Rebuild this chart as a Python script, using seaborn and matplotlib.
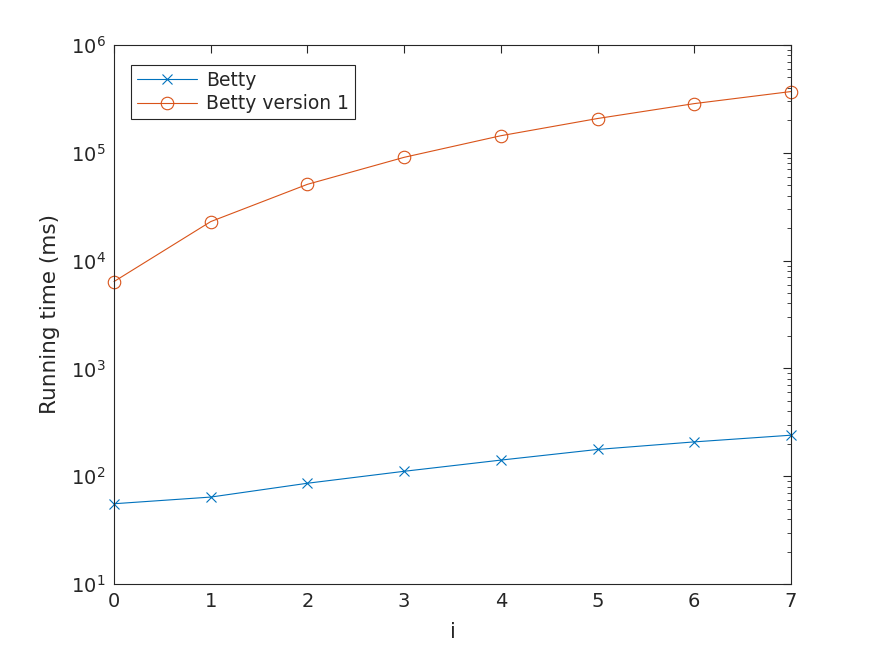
import numpy as np
import matplotlib
matplotlib.use('Agg')
import matplotlib.pyplot as plt
import seaborn as sns
from matplotlib.ticker import LogLocator, FixedLocator

# 数据
i_vals = [0, 1, 2, 3, 4, 5, 6, 7]
betty = [55.5, 64, 86, 111, 141, 177, 208, 240]
betty_v1 = [6390, 23000, 51000, 90800, 144000, 208000, 286000, 370000]
series_names = ['Betty', 'Betty version 1']

sns.set_theme(style='white')
plt.rcParams['font.family'] = ['DejaVu Sans']

fig = plt.figure(figsize=(8.75, 6.56), dpi=100)
ax = fig.add_axes([0.1303, 0.1098, 0.7737, 0.8216])

# 两条折线分别画（x 和空心圆标记不能混用）
sns.lineplot(x=i_vals, y=betty, color='#0072BD', marker='x', markersize=7,
             markeredgecolor='#0072BD', markeredgewidth=0.8, linewidth=0.8,
             label=series_names[0], ax=ax, clip_on=False)
sns.lineplot(x=i_vals, y=betty_v1, color='#D95319', marker='o', markersize=9,
             markerfacecolor='none', markeredgecolor='#D95319', markeredgewidth=0.8,
             linewidth=0.8, label=series_names[1], ax=ax, clip_on=False)

ax.set_yscale('log')
ax.set_ylim(10, 1e6)
ax.set_xlim(0, 7)
ax.xaxis.set_major_locator(FixedLocator(i_vals))
ax.yaxis.set_major_locator(LogLocator(base=10, numticks=10))
ax.yaxis.set_minor_locator(LogLocator(base=10, subs=np.arange(2, 10), numticks=20))

ax.set_xlabel('i', fontsize=15, color='#262626', labelpad=8)
ax.set_ylabel('Running time (ms)', fontsize=15.5, color='#262626', labelpad=8)

ax.tick_params(axis='both', which='both', direction='in', top=True, right=True,
               colors='#262626', labelsize=14)
ax.tick_params(axis='both', which='major', length=6, width=0.8, pad=6)
ax.tick_params(axis='y', which='minor', length=3, width=0.6)

for sp in ax.spines.values():
    sp.set_visible(True)
    sp.set_color('#262626')
    sp.set_linewidth(0.8)

leg = ax.legend(loc='upper left', bbox_to_anchor=(0.025, 0.963), fontsize=13.5,
                frameon=True, fancybox=False, borderpad=0.3, labelspacing=0.25,
                handlelength=3.2, handletextpad=0.5, borderaxespad=0)
leg.get_frame().set_edgecolor('#262626')
leg.get_frame().set_linewidth(0.8)
leg.get_frame().set_alpha(1)

fig.savefig('out.png', dpi=100)
